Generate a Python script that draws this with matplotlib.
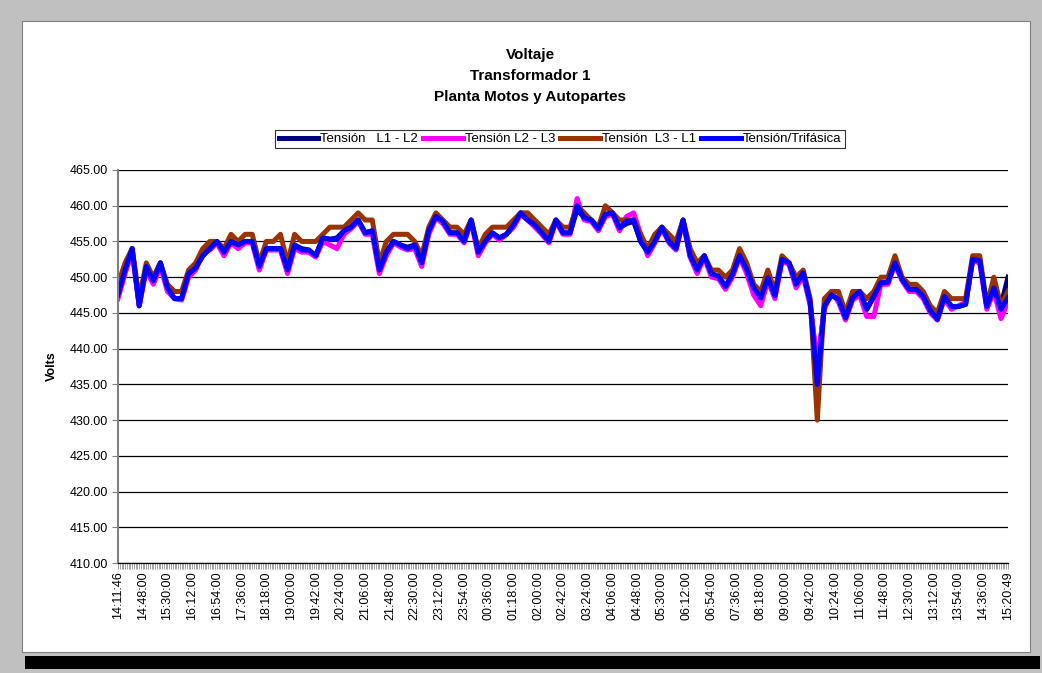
import numpy as np
import matplotlib.pyplot as plt
from matplotlib.patches import Rectangle
from matplotlib.ticker import MultipleLocator, FixedLocator

plt.rcParams['font.family'] = ['Liberation Sans', 'DejaVu Sans']

# one reading every 4 samples (3 min per sample -> 12 min per reading)
STEP = 4
LABEL_EVERY = 14

tick_labels = ["14:11:46", "14:48:00", "15:30:00", "16:12:00", "16:54:00", "17:36:00",
               "18:18:00", "19:00:00", "19:42:00", "20:24:00", "21:06:00", "21:48:00",
               "22:30:00", "23:12:00", "23:54:00", "00:36:00", "01:18:00", "02:00:00",
               "02:42:00", "03:24:00", "04:06:00", "04:48:00", "05:30:00", "06:12:00",
               "06:54:00", "07:36:00", "08:18:00", "09:00:00", "09:42:00", "10:24:00",
               "11:06:00", "11:48:00", "12:30:00", "13:12:00", "13:54:00", "14:36:00",
               "15:20:49"]

trifasica = [447.5, 451, 454, 446, 451.5, 449.5, 452, 448.5, 447, 447, 450.5, 451.3, 453, 454,
             455, 453.5, 455, 454.5, 455, 455, 451.5, 454,
             454, 454, 451, 454.5, 453.8, 453.8, 453, 455.5, 455.3, 455.3, 456.5, 457, 458,
             456.2, 456.5, 451, 453.5, 455, 454.5, 454, 454.5,
             452, 456.5, 458.5, 457.8, 456.2, 456.2, 455, 458, 453.5, 455, 456.2, 455.5, 456,
             457.3, 459, 458, 457.3, 456.2, 455, 458, 456.2,
             456.2, 460, 458.3, 458, 456.8, 458.8, 459, 456.9, 457.8, 458, 455, 453.5, 455,
             457, 455, 454, 458, 453, 451, 453, 450.5,
             450.1, 448.7, 450.4, 453, 451.1, 448.5, 447.1, 449.9, 447.4, 452.5, 452, 449,
             450.6, 446.4, 435, 445.9, 447.5, 446.9, 444.3, 447.1, 448, 445.5,
             447.3, 449.2, 449.3, 452, 449.7, 448.3, 448.3, 447.3, 445.3, 444.1, 447.3, 445.9,
             445.9, 446.2, 452.5, 452.3, 445.9, 448.5, 445.5, 447.1]

l3_l1 = [449, 452, 454, 447, 452, 450, 452, 449, 448, 448, 451, 452, 454, 455, 455, 454, 456,
         455, 456, 456, 452, 455,
         455, 456, 452, 456, 455, 455, 455, 456, 457, 457, 457, 458, 459, 458, 458, 452, 455,
         456, 456, 456, 455,
         453, 457, 459, 458, 457, 457, 456, 458, 454, 456, 457, 457, 457, 458, 459, 459, 458,
         457, 456, 458, 457,
         457, 460, 459, 458, 457, 460, 459, 458, 458, 458, 456, 454, 456, 457, 456, 455, 458,
         454, 452, 453, 451,
         451, 450, 451, 454, 452, 449, 448, 451, 448, 453, 452, 450, 451, 447, 430, 447, 448,
         448, 445, 448, 448, 447,
         448, 450, 450, 453, 450, 449, 449, 448, 446, 445, 448, 447, 447, 447, 453, 453, 446,
         450, 446, 448]

l2_l3 = [447, 450.5, 453.5, 446, 451, 449, 451.5, 448, 447, 446.8, 450, 451, 453.5, 453.8,
         454.8, 453, 454.8, 454, 454.8, 454.8, 451, 453.8,
         453.8, 453.8, 450.5, 454, 453.5, 453.5, 452.8, 455, 454.5, 454, 456, 456.8, 457.8,
         456, 456, 450.5, 453, 454.8, 454.2, 453.8, 454,
         451.5, 456, 458.3, 457.5, 456, 456, 454.8, 457.8, 453, 454.8, 456, 455.2, 456,
         457, 458.8, 458, 457, 456, 454.8, 457.8, 456,
         456, 461, 458, 457.8, 456.5, 458.5, 458.8, 456.5, 458.5, 459, 456, 453, 454.8,
         456.8, 454.8, 453.8, 457.8, 452.8, 450.5, 452.8, 450,
         449.8, 448.3, 450, 452.8, 450.5, 447.5, 446, 449.5, 447, 452.2, 451.8, 448.5,
         450.2, 446, 438, 445.5, 448, 446.5, 444, 446.8, 447.5, 444.5,
         444.5, 449, 449, 451.8, 449.5, 448, 448, 447, 445, 444, 447, 445.5,
         446, 446.5, 452.3, 452, 445.5, 448, 444.2, 446.5]

l1_l2 = [447.5, 451, 454, 446, 451.5, 449.5, 452, 448.5, 447, 447, 450.5, 451.3, 453, 454,
         455, 453.5, 455, 454.5, 455, 455, 451.5, 454,
         454, 454, 451, 454.5, 454, 453.8, 453, 455.5, 455.3, 455.5, 456.5, 457, 458,
         456.2, 456.5, 451, 453.5, 455, 454.5, 454.2, 454.5,
         452, 456.5, 458.5, 457.8, 456.2, 456.2, 455, 458, 453.5, 455, 456.2, 455.5, 456,
         457.3, 459, 458, 457.3, 456.2, 455, 458, 456.2,
         456.2, 459.5, 458.3, 458, 456.8, 458.5, 459, 456.9, 457.5, 457.8, 455, 453.5, 455,
         457, 455, 454, 458, 453, 451, 453, 450.5,
         450.1, 448.7, 450.4, 453, 451.1, 448.5, 447.1, 449.9, 447.4, 452.5, 452, 449,
         450.6, 446.4, 437, 445.9, 447.5, 446.9, 444.3, 447.1, 448, 445.5,
         447.3, 449.2, 449.3, 452, 449.7, 448.3, 448.3, 447.3, 445.3, 444.1, 447.3, 445.9,
         445.9, 446.2, 452.5, 452.3, 445.9, 448.5, 446, 450]

n_cat = (len(tick_labels) - 1) * LABEL_EVERY
x = np.arange(len(trifasica)) * STEP

fig = plt.figure(figsize=(10.42, 6.73), dpi=100)
fig.patch.set_facecolor('#c0c0c0')

# white chart panel with drop shadow
W, H = 1042, 673
fig.add_artist(Rectangle((25 / W, 4 / H), 1015 / W, 13 / H, transform=fig.transFigure,
                         facecolor='black', edgecolor='none', zorder=0))
fig.add_artist(Rectangle((22 / W, 21 / H), 1008 / W, 631 / H, transform=fig.transFigure,
                         facecolor='white', edgecolor='#808080', linewidth=0.8, zorder=0))

ax = fig.add_axes([118 / W, 1 - 563 / H, 890 / W, 393 / H])
ax.set_facecolor('none')

LW = 3.6
ax.plot(x, l1_l2, color='#000080', lw=LW, label='Tensión   L1 - L2', solid_joinstyle='round')
ax.plot(x, l2_l3, color='#ff00ff', lw=LW, label='Tensión L2 - L3', solid_joinstyle='round')
ax.plot(x, l3_l1, color='#993300', lw=LW, label='Tensión  L3 - L1', solid_joinstyle='round')
ax.plot(x, trifasica, color='#0000ff', lw=LW, label='Tensión/Trifásica', solid_joinstyle='round')

ax.set_xlim(0, n_cat)
ax.set_ylim(410, 465)
ax.yaxis.set_major_locator(MultipleLocator(5))
ax.yaxis.set_major_formatter(lambda v, p: f"{v:.2f}")
ax.grid(axis='y', color='black', lw=0.9)
ax.set_axisbelow(True)

ax.xaxis.set_major_locator(FixedLocator(np.arange(0, n_cat + 1, LABEL_EVERY)))
ax.set_xticklabels(tick_labels, rotation=90, fontsize=9)
ax.xaxis.set_minor_locator(MultipleLocator(1))
ax.tick_params(axis='x', which='both', length=4, width=0.5, color='#808080', direction='out')
ax.tick_params(axis='x', which='major', pad=2)
ax.tick_params(axis='y', labelsize=9, length=4, width=0.8, color='#808080', direction='out')

for s in ['top', 'right']:
    ax.spines[s].set_visible(False)
ax.spines['left'].set_color('#808080')
ax.spines['left'].set_linewidth(1.5)
ax.spines['bottom'].set_color('black')
ax.spines['bottom'].set_linewidth(0.9)

ax.set_ylabel('Volts', fontsize=9, fontweight='bold', labelpad=8)

fig.text(530 / W, 1 - 55 / H, 'Voltaje', ha='center', va='center', fontsize=11, fontweight='bold')
fig.text(530 / W, 1 - 76 / H, 'Transformador 1', ha='center', va='center', fontsize=11, fontweight='bold')
fig.text(530 / W, 1 - 97 / H, 'Planta Motos y Autopartes', ha='center', va='center', fontsize=11,
         fontweight='bold')

leg = fig.legend(loc='center', bbox_to_anchor=(560 / W, 1 - 139 / H), ncol=4, fontsize=9.5,
                 frameon=True, fancybox=False, edgecolor='black', handlelength=3.0,
                 handletextpad=0.15, columnspacing=0.4, borderpad=0.25, borderaxespad=0)
leg.get_frame().set_linewidth(0.8)

fig.savefig('out.png', dpi=100, facecolor=fig.get_facecolor())
